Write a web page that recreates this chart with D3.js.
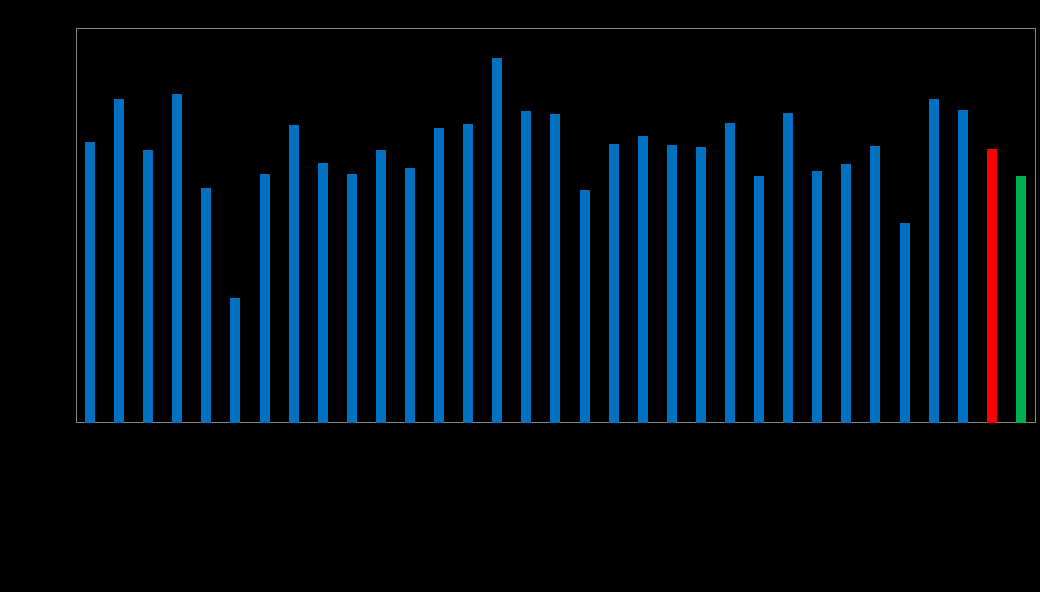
<!DOCTYPE html>
<html>
<head>
<meta charset="utf-8">
<script src="https://cdn.jsdelivr.net/npm/d3@7"></script>
<style>
  html, body { margin: 0; padding: 0; background: #000; }
  svg { display: block; }
</style>
</head>
<body>
<svg id="chart" width="1040" height="592"></svg>
<script>
// Data (relative to the axis maximum of 100)
const categories = d3.range(1, 34).map(String);
const values = [71.2, 82.1, 69.2, 83.4, 59.6, 31.7, 63.1, 75.5, 65.9, 63.1,
                69.2, 64.6, 74.8, 75.8, 92.5, 79.1, 78.3, 59.1, 70.7, 72.8,
                70.5, 70.0, 76.0, 62.6, 78.6, 63.9, 65.7, 70.2, 50.7, 82.1,
                79.3, 69.5, 62.6];
const barColors = categories.map((c, i) =>
  i === 31 ? "#FF0000" : i === 32 ? "#00B050" : "#0070C0");
const yMax = 100;

const svg = d3.select("#chart");
svg.append("rect").attr("width", 1040).attr("height", 592).attr("fill", "#000");

const frame = { left: 76.5, right: 1035.5, top: 28.5, bottom: 422.5 };

const x = d3.scaleBand()
  .domain(categories)
  .range([75.5, 1035.5])
  .paddingInner(0.655)
  .paddingOuter(0.3275);

const y = d3.scaleLinear()
  .domain([0, yMax])
  .range([423, 28.5]);

// plot frame
svg.append("rect")
  .attr("x", frame.left).attr("y", frame.top)
  .attr("width", frame.right - frame.left)
  .attr("height", frame.bottom - frame.top)
  .attr("fill", "none")
  .attr("stroke", "#868686")
  .attr("stroke-width", 1);

// bars
svg.append("g").selectAll("rect")
  .data(values)
  .join("rect")
  .attr("x", (d, i) => Math.round(x(categories[i])))
  .attr("width", 10)
  .attr("y", d => Math.round(y(d)))
  .attr("height", d => 423 - Math.round(y(d)))
  .attr("fill", (d, i) => barColors[i]);
</script>
</body>
</html>
